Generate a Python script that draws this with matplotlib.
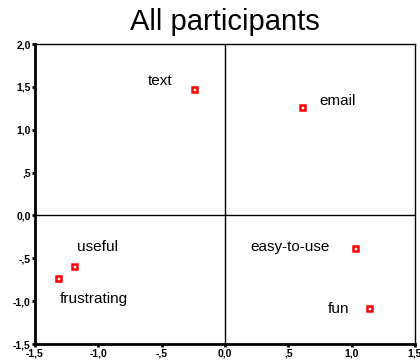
import matplotlib
matplotlib.use("Agg")
import matplotlib.pyplot as plt
from matplotlib.ticker import FixedLocator, FixedFormatter

labels = ["text", "email", "useful", "frustrating", "easy-to-use", "fun"]
xs = [-0.245, 0.61, -1.19, -1.32, 1.03, 1.14]
ys = [1.48, 1.27, -0.595, -0.735, -0.385, -1.085]
xticks = [-1.5, -1.0, -0.5, 0.0, 0.5, 1.0, 1.5]
xticklabels = ["-1,5", "-1,0", "-,5", "0,0", ",5", "1,0", "1,5"]
yticks = [-1.5, -1.0, -0.5, 0.0, 0.5, 1.0, 1.5, 2.0]
yticklabels = ["-1,5", "-1,0", "-,5", "0,0", ",5", "1,0", "1,5", "2,0"]
# label offsets (pixels) relative to each point
offsets = [(-34, 8), (35, 6), (23, 19), (36, -21), (-65, 1), (-31, -1)]

plt.rcParams['font.family'] = ['Liberation Sans', 'DejaVu Sans']
fig = plt.figure(figsize=(4.2, 3.6), dpi=100)
ax = fig.add_axes([35/420, 16/360, 380/420, 300/360])
ax.set_xlim(-1.5, 1.5)
ax.set_ylim(-1.5, 2.0)
ax.axhline(0, color='black', lw=1)
ax.axvline(0, color='black', lw=1)
ax.plot(xs, ys, linestyle='none', marker='s', markersize=3.6,
        mfc='white', mec='red', mew=1.8, zorder=3)
for lab, x, y, (dx, dy) in zip(labels, xs, ys, offsets):
    ax.annotate(lab, (x, y), xytext=(dx, dy), textcoords='offset pixels',
                ha='center', va='center', fontsize=11)
ax.xaxis.set_major_locator(FixedLocator(xticks))
ax.xaxis.set_major_formatter(FixedFormatter(xticklabels))
ax.yaxis.set_major_locator(FixedLocator(yticks))
ax.yaxis.set_major_formatter(FixedFormatter(yticklabels))
ax.tick_params(direction='out', length=2, width=2, labelsize=7.5, pad=1)
for t in ax.get_xticklabels() + ax.get_yticklabels():
    t.set_fontweight('bold')
ax.spines['left'].set_linewidth(2)
ax.spines['bottom'].set_linewidth(2)
ax.spines['top'].set_linewidth(1)
ax.spines['right'].set_linewidth(1)
fig.text(225/420, 1 - 22/360, "All participants", ha='center', va='center', fontsize=21)
fig.savefig("out.png", dpi=100)
